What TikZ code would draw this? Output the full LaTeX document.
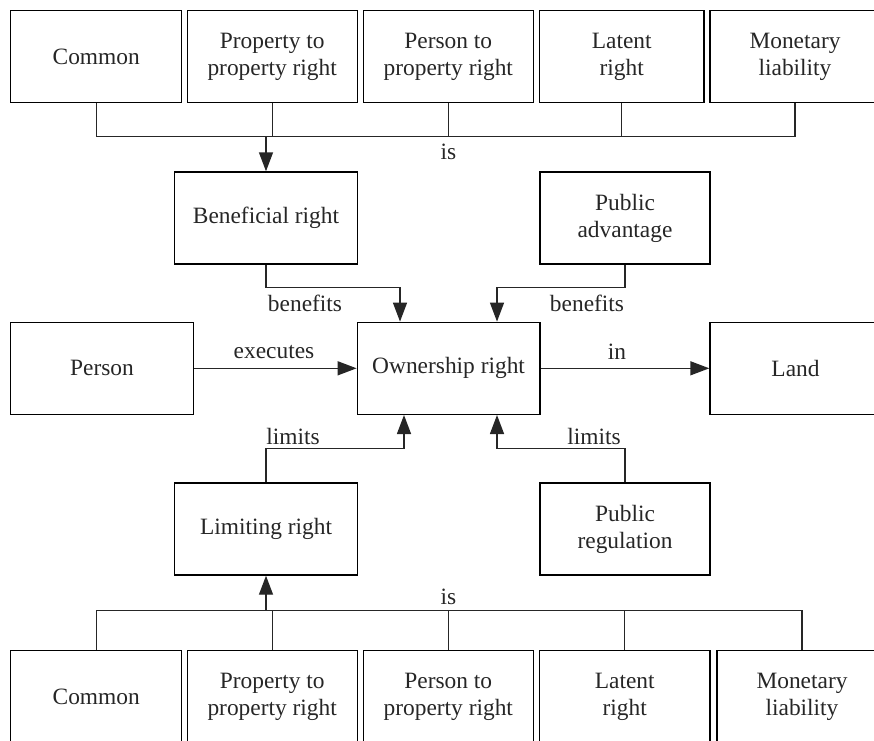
\documentclass[tikz,border=0pt]{standalone}
\usepackage{fontspec}
\setmainfont{Liberation Serif}
\usetikzlibrary{arrows.meta}

\tikzset{
  box/.style={draw, line width=1.4pt, align=center, inner sep=2pt,
              font=\fontsize{23.4}{27}\selectfont, text=black!85},
  lbl/.style={font=\fontsize{23.4}{27}\selectfont, text=black!85, inner sep=0pt},
  wire/.style={line width=1.4pt, draw=black!85},
  arr/.style={wire, -{Triangle[length=19pt,width=14pt]}}
}

\begin{document}
\begin{tikzpicture}[x=1pt,y=-1pt]
  \useasboundingbox (0,0) rectangle (874,740);
  \clip (0,0) rectangle (874,740);

  % upper row of right types
  \node[box, minimum width=171pt, minimum height=92pt] (t1) at (96.2,56.5) {Common};
  \node[box, minimum width=170pt, minimum height=92pt] (t2) at (272.2,56.5) {Property to\\property right};
  \node[box, minimum width=170pt, minimum height=92pt] (t3) at (448.3,56.5) {Person to\\property right};
  \node[box, minimum width=164.7pt, minimum height=92pt] (t4) at (621.7,56.5) {Latent\\right};
  \node[box, minimum width=170pt, minimum height=92pt] (t5) at (795,56.5) {Monetary\\liability};

  % middle layer
  \node[box, minimum width=182.5pt, minimum height=92pt] (ben) at (266,218) {Beneficial right};
  \node[box, minimum width=170pt, minimum height=92pt] (pa) at (625,218) {Public\\advantage};

  \node[box, minimum width=182.6pt, minimum height=92pt] (person) at (102,368.3) {Person};
  \node[box, minimum width=182.6pt, minimum height=92pt] (own) at (448.6,368.3) {Ownership right};
  \node[box, minimum width=171pt, minimum height=92pt] (land) at (795.5,368.3) {Land};

  \node[box, minimum width=182.5pt, minimum height=92pt] (lim) at (266,529) {Limiting right};
  \node[box, minimum width=170pt, minimum height=92pt] (reg) at (625,529) {Public\\regulation};

  % lower row of right types
  \node[box, minimum width=171pt, minimum height=92pt] (b1) at (96.2,696.7) {Common};
  \node[box, minimum width=170pt, minimum height=92pt] (b2) at (272.2,696.7) {Property to\\property right};
  \node[box, minimum width=170pt, minimum height=92pt] (b3) at (448.3,696.7) {Person to\\property right};
  \node[box, minimum width=170.7pt, minimum height=92pt] (b4) at (624.7,696.7) {Latent\\right};
  \node[box, minimum width=170pt, minimum height=92pt] (b5) at (802,696.7) {Monetary\\liability};

  % bus lines
  \coordinate (topbus) at (0,136.7);
  \coordinate (botbus) at (0,610.7);

  \draw[wire] (t1.south) -- (t1.south |- topbus) -- (t5.south |- topbus) -- (t5.south);
  \foreach \n in {t2,t3,t4} \draw[wire] (\n.south) -- (\n.south |- topbus);
  \draw[arr] (ben.north |- topbus) -- (ben.north);

  \draw[wire] (b1.north) -- (b1.north |- botbus) -- (b5.north |- botbus) -- (b5.north);
  \foreach \n in {b2,b3,b4} \draw[wire] (\n.north) -- (\n.north |- botbus);
  \draw[arr] (lim.south |- botbus) -- (lim.south);

  % relations around the ownership right
  \draw[arr] (ben.south) -- ++(0,23) -| ([xshift=-48.6pt]own.north);
  \draw[arr] (pa.south) -- ++(0,23) -| ([xshift=48.4pt]own.north);
  \draw[arr] (lim.north) -- ++(0,-34) -| ([xshift=-44.6pt]own.south);
  \draw[arr] (reg.north) -- ++(0,-34) -| ([xshift=48.4pt]own.south);
  \draw[arr] (person) -- (own);
  \draw[arr] (own) -- (land);

  % relation labels
  \node[lbl] (istop) at (448.5,152) {is};
  \node[lbl] (isbot) at (448.5,597) {is};
  \node[lbl] (benl) at (305,303) {benefits};
  \node[lbl] (benr) at (587,303) {benefits};
  \node[lbl] (exe) at (274,352) {executes};
  \node[lbl] (inl) at (617,352) {in};
  \node[lbl] (liml) at (293,436) {limits};
  \node[lbl] (limr) at (594,436) {limits};
\end{tikzpicture}
\end{document}
